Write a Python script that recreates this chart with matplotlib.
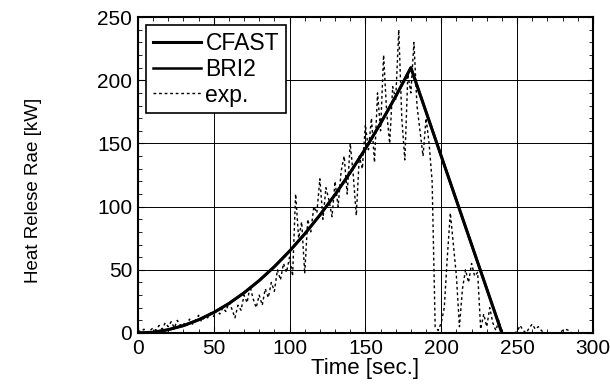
import numpy as np
import matplotlib.pyplot as plt
from matplotlib.ticker import MultipleLocator

plt.rcParams['font.family'] = ['Liberation Sans', 'DejaVu Sans']

# model curves (CFAST and BRI2 overlap): growth to peak, then linear decay
t_model = [0, 10, 20, 30, 40, 50, 60, 70, 80, 90, 100, 110, 120, 130, 140,
           150, 160, 170, 180, 240]
cfast = [0, 0.6, 2.6, 5.8, 10.4, 16.2, 23.3, 31.8, 41.5, 52.5, 64.8, 78.4,
         93.3, 109.5, 127, 145.8, 165.9, 187.3, 210, 0]
bri2 = [0, 0.6, 2.6, 5.8, 10.4, 16.2, 23.3, 31.8, 41.5, 52.5, 64.8, 78.4,
        93.3, 109.5, 127, 145.8, 165.9, 187.3, 210, 0]

# experiment, one sample every 2 s
t_exp = np.arange(0, 301, 2)
exp = [2, 1, 3, 0, 2, 4, 2, 6, 3, 8, 5, 9, 4, 10, 6, 8, 5, 11, 7, 10,
       14, 9, 13, 12, 16, 13, 18, 15, 20, 17, 24, 19, 12, 22, 18, 30, 24, 37, 27, 20,
       30, 22, 35, 28, 40, 33, 50, 42, 55, 48, 60, 45, 110, 75, 88, 47, 90, 80, 100, 95,
       122, 90, 115, 105, 92, 120, 100, 128, 140, 110, 150, 125, 93, 140, 130, 165, 145, 170, 135, 190,
       160, 220, 175, 150, 195, 185, 240, 170, 137, 205, 190, 230, 180, 160, 140, 170, 150, 120, 5, 2,
       8, 20, 60, 95, 70, 45, 5, 35, 50, 40, 55, 45, 48, 3, 15, 5, 20, 8, 2, 10,
       0, 0, 0, 0, 0, 1, 6, 2, 0, 4, 7, 3, 5, 2, 0, 0, 0, 0, 0, 0,
       2, 3, 2, 0, 0, 0, 0, 0, 0, 0, 0]

fig = plt.figure(figsize=(6.10, 3.89), dpi=100)
ax = fig.add_axes([0.226, 0.144, 0.746, 0.812])

ax.plot(t_model, cfast, 'k-', lw=2.2, label='CFAST')
ax.plot(t_model, bri2, 'k-', lw=1.8, label='BRI2')
ax.plot(t_exp, exp, color='k', lw=1.0, linestyle=(0, (2, 2)), label='exp.')

ax.set_xlim(0, 300)
ax.set_ylim(0, 250)
ax.xaxis.set_major_locator(MultipleLocator(50))
ax.xaxis.set_minor_locator(MultipleLocator(10))
ax.yaxis.set_major_locator(MultipleLocator(50))
ax.yaxis.set_minor_locator(MultipleLocator(10))
ax.tick_params(which='both', direction='in', top=True, right=True, labelsize=15)
ax.tick_params(which='major', length=4, pad=4)
ax.tick_params(which='minor', length=3)
ax.grid(True, which='major', color='k', lw=0.7)
for s in ax.spines.values():
    s.set_linewidth(1.5)

ax.set_xlabel('Time [sec.]', fontsize=16, labelpad=0)
ax.set_ylabel('Heat Relese Rae [kW]', fontsize=13.5)
ax.yaxis.set_label_coords(-0.21, 0.45)

leg = ax.legend(loc='upper left', fontsize=16.5, handlelength=2.1, handletextpad=0.2,
                labelspacing=0.12, borderpad=0.3, fancybox=False, framealpha=1,
                edgecolor='k', borderaxespad=0.35)
leg.get_frame().set_linewidth(1.2)

fig.savefig('out.png', dpi=100)
